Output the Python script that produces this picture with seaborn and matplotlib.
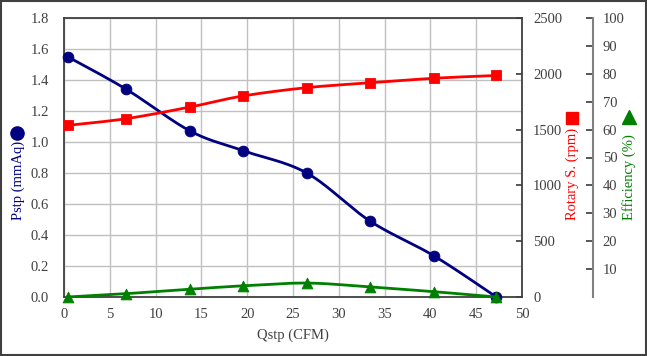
import numpy as np
import matplotlib
matplotlib.use("Agg")
import matplotlib.pyplot as plt
import seaborn as sns
from matplotlib.patches import Rectangle

# ---- data ----
qstp = [0.4, 6.8, 13.8, 19.5, 26.5, 33.4, 40.4, 47.2]
pstp = [1.55, 1.34, 1.07, 0.945, 0.80, 0.49, 0.265, 0.0]
rpm = [1538, 1598, 1703, 1801, 1876, 1919, 1960, 1985]
eff = [0.0, 1.2, 2.8, 4.0, 5.0, 3.6, 1.9, 0.0]

x_ticks = [0, 5, 10, 15, 20, 25, 30, 35, 40, 45, 50]
p_ticks = [0.0, 0.2, 0.4, 0.6, 0.8, 1.0, 1.2, 1.4, 1.6, 1.8]
r_ticks = [0, 500, 1000, 1500, 2000, 2500]
e_ticks = [10, 20, 30, 40, 50, 60, 70, 80, 90, 100]

NAVY, RED, GREEN = "#000080", "#ff0000", "#008000"
TXT = "#404040"
FS = 10.5

sns.set_theme(style="white")
plt.rcParams["font.family"] = ["Liberation Serif", "DejaVu Serif"]


def smooth(xs, ys, n=30):
    """Excel-like smoothed curve (Catmull-Rom Bezier) through the points."""
    xs = np.asarray(xs, float); ys = np.asarray(ys, float)
    P = np.column_stack([xs, ys])
    out = []
    for i in range(len(P) - 1):
        p0 = P[i - 1] if i > 0 else P[i]
        p1, p2 = P[i], P[i + 1]
        p3 = P[i + 2] if i + 2 < len(P) else P[i + 1]
        c1 = p1 + (p2 - p0) / 6.0
        c2 = p2 - (p3 - p1) / 6.0
        t = np.linspace(0, 1, n)[:, None]
        seg = ((1 - t) ** 3) * p1 + 3 * ((1 - t) ** 2) * t * c1 + 3 * (1 - t) * t ** 2 * c2 + t ** 3 * p2
        out.append(seg if i == 0 else seg[1:])
    S = np.vstack(out)
    return S[:, 0], S[:, 1]


fig = plt.figure(figsize=(6.47, 3.56), dpi=100)
ax = fig.add_axes([64 / 647, 1 - 297 / 356, (522 - 64) / 647, (297 - 18) / 356])
ax2 = ax.twinx()
ax3 = ax.twinx()

# grid
ax.set_xlim(0, 50)
ax.set_ylim(0, 1.8)
ax.set_xticks(x_ticks)
ax.set_yticks(p_ticks)
ax.set_yticklabels([f"{v:.1f}" for v in p_ticks])
ax.grid(True, color="#c0c0c0", lw=1)
ax.set_axisbelow(True)
for s in ax.spines.values():
    s.set_color("#404040"); s.set_linewidth(1.3)
ax.tick_params(axis="both", colors=TXT, labelsize=FS, length=0)
ax.tick_params(axis="y", pad=11)
ax.tick_params(axis="x", pad=8)

# rotary speed axis
ax2.set_ylim(0, 2500)
ax2.set_yticks(r_ticks)
ax2.tick_params(axis="y", direction="in", length=4, colors="#404040", labelcolor=TXT,
                labelsize=FS, pad=8)
for s in ax2.spines.values():
    s.set_visible(False)

# efficiency axis
ax3.set_ylim(0, 100)
ax3.set_yticks(e_ticks)
ax3.spines["right"].set_position(("axes", (593 - 64) / (522 - 64)))
for k, s in ax3.spines.items():
    s.set_visible(k == "right")
ax3.spines["right"].set_color("#808080")
ax3.spines["right"].set_linewidth(1.5)
ax3.tick_params(axis="y", direction="in", length=5, colors="#404040", labelcolor=TXT,
                labelsize=FS, pad=7)

# series
sx, sy = smooth(qstp, pstp)
sns.lineplot(x=sx, y=sy, ax=ax, color=NAVY, lw=2, sort=False, clip_on=False)
sns.scatterplot(x=qstp, y=pstp, ax=ax, color=NAVY, marker="o", s=60, edgecolor=NAVY, zorder=5, clip_on=False)

sx, sy = smooth(qstp, rpm)
sns.lineplot(x=sx, y=sy, ax=ax2, color=RED, lw=2, sort=False)
sns.scatterplot(x=qstp, y=rpm, ax=ax2, color=RED, marker="s", s=55, edgecolor=RED, zorder=5)

sx, sy = smooth(qstp, eff)
sns.lineplot(x=sx, y=sy, ax=ax3, color=GREEN, lw=2, sort=False, clip_on=False)
sns.scatterplot(x=qstp, y=eff, ax=ax3, color=GREEN, marker="^", s=60, edgecolor=GREEN, zorder=5, clip_on=False)
ax3.set_ylim(0, 100)
ax2.set_ylim(0, 2500)
ax.set_xlim(0, 50)

# labels
ax.set_xlabel("Qstp (CFM)", fontsize=FS, color=TXT, labelpad=5)
ax.set_ylabel("")
ax2.set_ylabel("")
ax3.set_ylabel("")
fig.text(18.5 / 647, 1 - 180 / 356, "Pstp (mmAq)", rotation=90, color=NAVY, fontsize=FS,
         ha="center", va="center")
fig.lines.append(plt.Line2D([17 / 647], [1 - 133 / 356], marker="o", ms=9.5, color=NAVY,
                            transform=fig.transFigure))
fig.text(572.5 / 647, 1 - 174 / 356, "Rotary S. (rpm)", rotation=90, color=RED, fontsize=FS,
         ha="center", va="center")
fig.lines.append(plt.Line2D([572 / 647], [1 - 118 / 356], marker="s", ms=9, color=RED,
                            transform=fig.transFigure))
fig.text(629.5 / 647, 1 - 177 / 356, "Efficiency (%)", rotation=90, color=GREEN, fontsize=FS,
         ha="center", va="center")
fig.lines.append(plt.Line2D([629 / 647], [1 - 117 / 356], marker="^", ms=9.5, color=GREEN,
                            transform=fig.transFigure))

fig.patches.append(Rectangle((0.001, 0.002), 0.997, 0.996, transform=fig.transFigure,
                             fill=False, edgecolor="#404040", lw=1.5))

fig.savefig("out.png", dpi=100)
